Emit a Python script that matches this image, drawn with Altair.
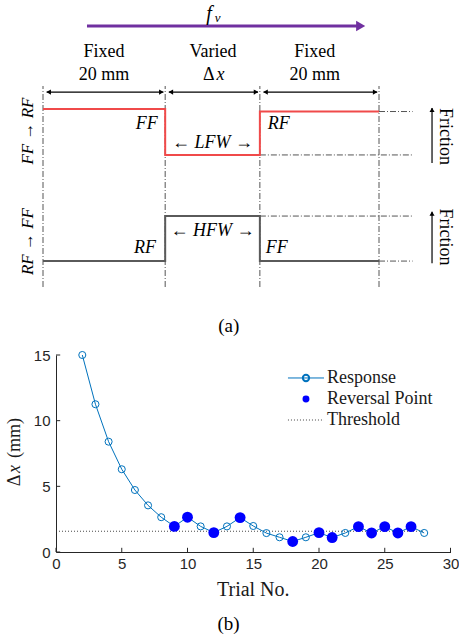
import altair as alt
import pandas as pd

# ---------------- panel (b): staircase data ----------------
trials = list(range(2, 29))
response_mm = [15.0, 11.25, 8.4, 6.3, 4.72, 3.55, 2.65, 1.95, 2.65, 1.95, 1.48,
               1.95, 2.62, 1.98, 1.44, 1.12, 0.8, 1.12, 1.47, 1.1, 1.45, 1.93,
               1.45, 1.93, 1.45, 1.93, 1.45]
reversal_trials = [9, 10, 12, 14, 18, 20, 21, 23, 24, 25, 26, 27]
threshold_mm = 1.58
x_tick_values = [0, 5, 10, 15, 20, 25, 30]
y_tick_values = [0, 5, 10, 15]
legend_labels = ["Response", "Reversal Point", "Threshold"]

# ---------------- panel (a): schematic values ----------------
boundaries_mm = [0, 20, 35.5, 55]          # fixed 20 mm | varied dx | fixed 20 mm
extension_end_mm = 60.5
ff_to_rf_levels = [8.85, 6.57, 8.73]       # friction level per segment (diagram units)
rf_to_ff_levels = [1.29, 3.53, 1.29]

# ---------------- scales ----------------
SA_X = alt.Scale(domain=[0, 55], range=[43, 379], nice=False, zero=False)
SA_Y = alt.Scale(domain=[0, 10], range=[287, 86], nice=False, zero=False)
SB_X = alt.Scale(domain=[0, 30], range=[56, 450.5], nice=False, zero=False)
SB_Y = alt.Scale(domain=[0, 15], range=[552, 355], nice=False, zero=False)

SERIF = "Liberation Serif"
SANS = "Liberation Sans"


def xa(f):
    return alt.X(f, type="quantitative", scale=SA_X, axis=None)


def ya(f):
    return alt.Y(f, type="quantitative", scale=SA_Y, axis=None)


def xb(f, axis=None):
    return alt.X(f, type="quantitative", scale=SB_X, axis=axis)


def yb(f, axis=None):
    return alt.Y(f, type="quantitative", scale=SB_Y, axis=axis)


layers = []

# ======================= PANEL (a) =======================
# vertical dash-dot guides
guides = pd.DataFrame({"x": boundaries_mm, "y0": 0.0, "y1": 10.0})
layers.append(alt.Chart(guides).mark_rule(color="#555555", strokeWidth=1,
                                          strokeDash=[6, 2, 1, 2]).encode(
    x=xa("x"), y=ya("y0"), y2="y1"))

# horizontal dash-dot extensions of the friction levels
ext_rows = []
for lv in (ff_to_rf_levels, rf_to_ff_levels):
    ext_rows.append(dict(x=boundaries_mm[3], x2=extension_end_mm, y=lv[2]))
    ext_rows.append(dict(x=boundaries_mm[2], x2=extension_end_mm, y=lv[1]))
ext = pd.DataFrame(ext_rows)
layers.append(alt.Chart(ext).mark_rule(color="#555555", strokeWidth=1,
                                       strokeDash=[6, 2, 1, 2]).encode(
    x=xa("x"), x2="x2", y=ya("y")))


def step_df(levels):
    rows = []
    for i, lv in enumerate(levels):
        rows.append(dict(x=boundaries_mm[i], y=lv, o=2 * i))
        rows.append(dict(x=boundaries_mm[i + 1], y=lv, o=2 * i + 1))
    return pd.DataFrame(rows)


layers.append(alt.Chart(step_df(ff_to_rf_levels)).mark_line(
    color="#f04a4a", strokeWidth=2).encode(x=xa("x"), y=ya("y"), order="o"))
layers.append(alt.Chart(step_df(rf_to_ff_levels)).mark_line(
    color="#5a5a5a", strokeWidth=2).encode(x=xa("x"), y=ya("y"), order="o"))

# double-headed dimension arrows
dims = pd.DataFrame({
    "x": [b + 0.6 for b in boundaries_mm[:-1]],
    "x2": [b - 0.3 for b in boundaries_mm[1:]],
    "y": 9.70,
})
layers.append(alt.Chart(dims).mark_rule(color="black", strokeWidth=1.2).encode(
    x=xa("x"), x2="x2", y=ya("y")))
layers.append(alt.Chart(dims).mark_point(shape="triangle-left", filled=True, size=28,
                                         color="black", opacity=1, xOffset=2).encode(
    x=xa("x"), y=ya("y")))
layers.append(alt.Chart(dims).mark_point(shape="triangle-right", filled=True, size=28,
                                         color="black", opacity=1, xOffset=-2).encode(
    x=xa("x2"), y=ya("y")))

# purple f_v arrow
fv = pd.DataFrame({"x": [7.2], "x2": [51.4], "y": [12.99], "xh": [52.0]})
layers.append(alt.Chart(fv).mark_rule(color="#7030a0", strokeWidth=3).encode(
    x=xa("x"), x2="x2", y=ya("y")))
layers.append(alt.Chart(fv).mark_point(shape="triangle-right", filled=True, size=110,
                                       color="#7030a0", opacity=1).encode(
    x=xa("xh"), y=ya("y")))

# friction arrows
fr = pd.DataFrame({"x": [63.68, 63.68], "y": [6.17, 1.18], "y2": [8.91, 3.75]})
layers.append(alt.Chart(fr).mark_rule(color="black", strokeWidth=1.2).encode(
    x=xa("x"), y=ya("y"), y2="y2"))
layers.append(alt.Chart(fr).mark_point(shape="triangle-up", filled=True, size=26,
                                       color="black", opacity=1, yOffset=2).encode(
    x=xa("x"), y=ya("y2")))


def text_a(rows, **kw):
    df = pd.DataFrame(rows, columns=["t", "x", "y"])
    props = dict(font=SERIF, fontSize=18, color="black", baseline="middle", align="center")
    props.update(kw)
    return alt.Chart(df).mark_text(**props).encode(x=xa("x"), y=ya("y"), text="t")


layers.append(text_a([
    ("Fixed", 10.0, 11.69), ("20 mm", 10.0, 10.55),
    ("Varied", 27.83, 11.69), ("Δ", 27.13, 10.55),
    ("Fixed", 44.5, 11.69), ("20 mm", 44.5, 10.55),
]))
layers.append(text_a([("(a)", 30.4, -1.92)], fontSize=19))
layers.append(text_a([
    ("x", 29.06, 10.55),
    ("FF", 17.0, 8.11), ("RF", 38.6, 8.11), ("← LFW →", 27.75, 7.16),
    ("← HFW →", 27.75, 2.79), ("RF", 16.7, 1.94), ("FF", 38.25, 1.94),
], fontStyle="italic"))
layers.append(text_a([("f", 27.17, 13.58)], fontStyle="italic", fontSize=20))
layers.append(text_a([("v", 28.6, 13.38)], fontStyle="italic", fontSize=13))
layers.append(text_a([("FF → RF", -2.45, 7.76), ("RF → FF", -2.45, 2.26)],
                     fontStyle="italic", angle=270, fontSize=17))
layers.append(text_a([("Friction", 65.8, 7.49), ("Friction", 65.8, 2.49)],
                     angle=90, fontSize=18))

# ======================= PANEL (b) =======================
resp = pd.DataFrame({"trial": trials, "dx": response_mm})
rev = resp[resp["trial"].isin(reversal_trials)]

thr = pd.DataFrame({"x": [0], "x2": [trials[-1]], "y": [threshold_mm]})
layers.append(alt.Chart(thr).mark_rule(color="#333333", strokeWidth=0.9,
                                       strokeDash=[1, 2]).encode(
    x=xb("x"), x2="x2", y=yb("y")))

x_axis = alt.Axis(values=x_tick_values, orient="bottom", offset=-88, ticks=False,
                  tickSize=0, labelFont=SANS, labelFontSize=15, labelPadding=4,
                  labelColor="#262626", domainColor="#262626", domainWidth=1,
                  grid=False, title=None, labelFlush=False, labelOverlap=False)
y_axis = alt.Axis(values=y_tick_values, orient="left", offset=-56, ticks=False,
                  tickSize=0, labelFont=SANS, labelFontSize=15, labelPadding=6,
                  labelColor="#262626", domainColor="#262626", domainWidth=1,
                  grid=False, title=None, labelFlush=False, labelOverlap=False)

layers.append(alt.Chart(resp).mark_line(color="#0072bd", strokeWidth=1).encode(
    x=xb("trial", x_axis), y=yb("dx", y_axis)))
layers.append(alt.Chart(resp).mark_point(shape="circle", filled=False, size=50,
                                         strokeWidth=1, color="#0072bd", opacity=1).encode(
    x=xb("trial"), y=yb("dx")))
layers.append(alt.Chart(rev).mark_circle(size=118, color="#0000ff", opacity=1).encode(
    x=xb("trial"), y=yb("dx")))

# inward ticks
xt = pd.DataFrame({"x": x_tick_values, "y": 0.0, "y2": 0.32})
layers.append(alt.Chart(xt).mark_rule(color="#262626", strokeWidth=1).encode(
    x=xb("x"), y=yb("y"), y2="y2"))
yt = pd.DataFrame({"y": y_tick_values, "x": 0.0, "x2": 0.32})
layers.append(alt.Chart(yt).mark_rule(color="#262626", strokeWidth=1).encode(
    x=xb("x"), x2="x2", y=yb("y")))

# legend
leg = pd.DataFrame({"t": legend_labels, "y": [13.25, 11.65, 10.05],
                    "x0": 17.64, "x1": 20.38, "xm": 19.01, "xt": 20.61})
layers.append(alt.Chart(leg.iloc[[0]]).mark_rule(color="#0072bd", strokeWidth=1).encode(
    x=xb("x0"), x2="x1", y=yb("y")))
layers.append(alt.Chart(leg.iloc[[0]]).mark_point(shape="circle", filled=False, size=40,
                                                  color="#0072bd", opacity=1).encode(
    x=xb("xm"), y=yb("y")))
layers.append(alt.Chart(leg.iloc[[1]]).mark_circle(size=48, color="#0000ff", opacity=1).encode(
    x=xb("xm"), y=yb("y")))
layers.append(alt.Chart(leg.iloc[[2]]).mark_rule(color="#333333", strokeWidth=0.9,
                                                 strokeDash=[1, 2]).encode(
    x=xb("x0"), x2="x1", y=yb("y")))
layers.append(alt.Chart(leg).mark_text(font=SERIF, fontSize=18, align="left",
                                       baseline="middle", color="#1a1a1a").encode(
    x=xb("xt"), y=yb("y"), text="t"))


def text_b(rows, **kw):
    df = pd.DataFrame(rows, columns=["t", "x", "y"])
    props = dict(font=SERIF, fontSize=18, color="#1a1a1a", baseline="middle", align="center")
    props.update(kw)
    return alt.Chart(df).mark_text(**props).encode(x=xb("x"), y=yb("y"), text="t")


layers.append(text_b([("Trial No.", 15.0, -2.86)], fontSize=20))
layers.append(text_b([("(b)", 13.12, -5.45)], fontSize=19, color="black"))
layers.append(text_b([("Δ", -3.12, 5.45), ("(mm)", -3.12, 8.68)], angle=270, fontSize=18))
layers.append(text_b([("x", -3.12, 6.32)], angle=270, fontSize=18, fontStyle="italic"))

chart = alt.layer(*layers).resolve_scale(x="independent", y="independent").properties(
    width=459, height=640, padding=0,
    autosize=alt.AutoSizeParams(type="none"),
    background="white",
).configure_view(stroke=None)

chart.save("out.html", embed_options={"renderer": "svg", "actions": False})
